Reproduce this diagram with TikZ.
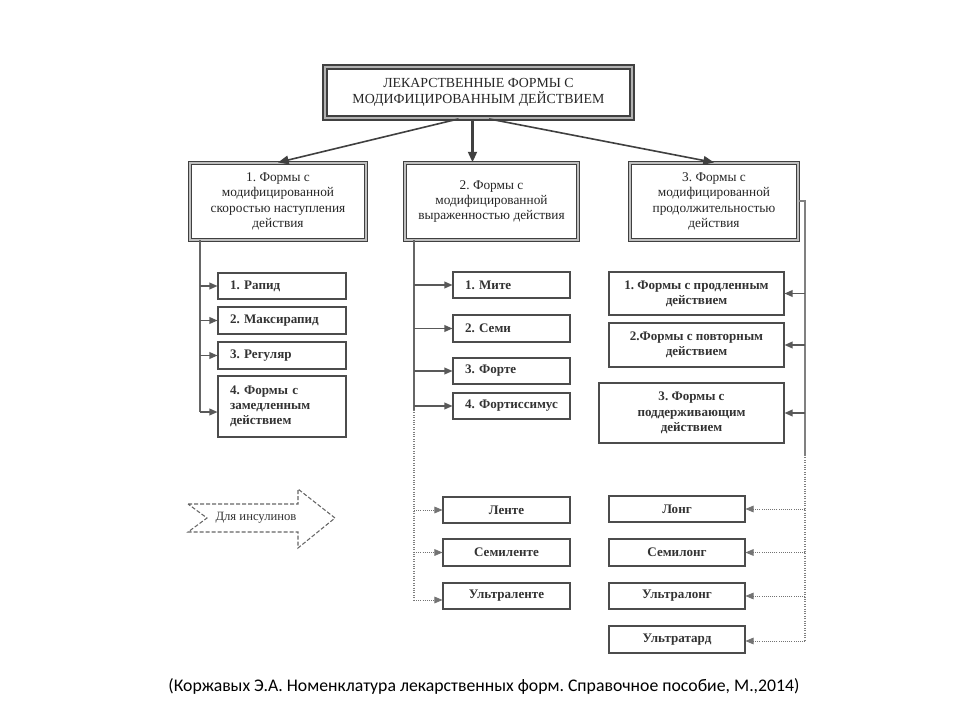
\documentclass[tikz,border=0pt]{standalone}
\usepackage{fontspec}
\setmainfont{Liberation Serif}
\newfontfamily\capfont{Carlito}
\usetikzlibrary{arrows.meta}
\frenchspacing
\begin{document}
\begin{tikzpicture}[x=0.75pt,y=-0.75pt,
  wh/.style 2 args={minimum width=#1*0.75pt, minimum height=#2*0.75pt},
  lvtop/.style={draw=black!75, line width=1.4pt, double=gray!60, double distance=1.3pt, fill=white, align=center, inner sep=0pt, text=black!85, font=\fontsize{10.4}{12.3}\selectfont},
  lvone/.style={draw=black!75, line width=0.8pt, double=gray!50, double distance=1pt, align=center, inner sep=0pt, text=black!85, font=\fontsize{10}{11.5}\selectfont},
  leaf/.style={draw=black!70, line width=0.8pt, inner sep=0pt, align=center, text=black!80, font=\fontsize{9.8}{11.5}\selectfont\bfseries},
  leafl/.style={leaf, align=left, text width=#1*0.75pt},
  conn/.style={draw=black!65, line width=1pt, -{Triangle[length=6pt,width=5pt]}},
  dconn/.style={draw=black!55, line width=0.6pt, densely dotted, -{Triangle[length=6pt,width=5pt]}},
  trunk/.style={draw=black!60, line width=1.1pt},
  dtrunk/.style={draw=black!50, line width=0.8pt, densely dotted},
  toparr/.style={draw=black!75, line width=1.2pt, -{Triangle[length=8pt,width=6.5pt]}}
]
\useasboundingbox (0,0) rectangle (960,720);
\fill[white] (0,0) rectangle (960,720);

% top
\node[lvtop, wh={307}{51}] (top) at (478.5,92.5) {ЛЕКАРСТВЕННЫЕ ФОРМЫ С\\МОДИФИЦИРОВАННЫМ ДЕЙСТВИЕМ};

% level 1
\node[lvone, wh={176}{77}] (b1) at (278,201.5) {1. Формы с\\модифицированной\\скоростью наступления\\действия};
\node[lvone, wh={173}{77}] (b2) at (491.5,201.5) {2. Формы с\\модифицированной\\выраженностью действия};
\node[lvone, wh={168}{77}] (b3) at (714,201.5) {3. Формы с\\модифицированной\\продолжительностью\\действия};

% top arrows
\coordinate (s1) at ([xshift=-15pt]top.south);
\coordinate (s2) at ([xshift=-4.5pt]top.south);
\coordinate (s3) at ([xshift=8pt]top.south);
\draw[toparr] (s1) -- (b1.north);
\draw[toparr, line width=2pt] (s2) -- (s2 |- b2.north);
\draw[toparr] (s3) -- (b3.north);

% left column
\node[leafl=104, wh={128}{26}] (l1) at (282,286) {1. Рапид};
\node[leafl=104, wh={128}{27}] (l2) at (282,320.5) {2. Максирапид};
\node[leafl=104, wh={128}{27}] (l3) at (282,355.5) {3. Регуляр};
\node[leafl=104, wh={128}{61}] (l4) at (282,406.5) {4. Формы с\\замедленным\\действием};

\coordinate (lt) at (200,240);
\coordinate (lb) at (200,412);
\draw[trunk] (lt) -- (lb);
\draw[conn] (lt |- l1.west) -- (l1.west);
\draw[conn] (lt |- l2.west) -- (l2.west);
\draw[conn] (lt |- l3.west) -- (l3.west);
\draw[conn] (lb) -- (lb -| l4.west);

% middle column
\node[leafl=93, wh={117}{26}] (m1) at (511.5,285) {1. Мите};
\node[leafl=93, wh={117}{27}] (m2) at (511.5,328.5) {2. Семи};
\node[leafl=93, wh={117}{26}] (m3) at (511.5,371) {3. Форте};
\node[leafl=93, wh={117}{26}] (m4) at (511.5,406) {4. Фортиссимус};
\node[leaf, wh={127}{26}] (m5) at (506.5,510) {Ленте};
\node[leaf, wh={127}{27}] (m6) at (506.5,552.5) {Семиленте};
\node[leaf, wh={127}{26}] (m7) at (506.5,596) {Ультраленте};

\coordinate (mt) at (414,240);
\coordinate (mm) at (414,410);
\coordinate (mb) at (414,600);
\draw[trunk] (mt) -- (mm);
\draw[dtrunk] (mm) -- (mb);
\draw[conn] (mt |- m1.west) -- (m1.west);
\draw[conn] (mt |- m2.west) -- (m2.west);
\draw[conn] (mt |- m3.west) -- (m3.west);
\draw[conn] (mt |- m4.west) -- (m4.west);
\draw[dconn] (mt |- m5.west) -- (m5.west);
\draw[dconn] (mt |- m6.west) -- (m6.west);
\draw[dconn] (mb) -- (mb -| m7.west);

% right column
\node[leaf, wh={175}{43}] (r1) at (696.5,293.5) {1. Формы с продленным\\действием};
\node[leaf, wh={175}{44}] (r2) at (696.5,345) {2.Формы с повторным\\действием};
\node[leaf, wh={185}{60}] (r3) at (691.5,413) {3. Формы с\\поддерживающим\\действием};
\node[leaf, wh={136}{26}] (r4) at (677,509) {Лонг};
\node[leaf, wh={136}{27}] (r5) at (677,552.5) {Семилонг};
\node[leaf, wh={136}{26}] (r6) at (677,596) {Ультралонг};
\node[leaf, wh={136}{27}] (r7) at (677,639.5) {Ультратард};

\coordinate (rt) at (805,201);
\coordinate (rm) at (805,455);
\coordinate (rb) at (805,641);
\draw[trunk, line width=0.9pt, draw=black!50] (b3.east |- rt) -- (rt) -- (rm);
\draw[dtrunk] (rm) -- (rb);
\draw[conn] (rt |- r1.east) -- (r1.east);
\draw[conn] (rt |- r2.east) -- (r2.east);
\draw[conn] (rt |- r3.east) -- (r3.east);
\draw[dconn] (rt |- r4.east) -- (r4.east);
\draw[dconn] (rt |- r5.east) -- (r5.east);
\draw[dconn] (rt |- r6.east) -- (r6.east);
\draw[dconn] (rb) -- (rb -| r7.east);

% insulin arrow
\draw[draw=black!60, line width=0.8pt, dash pattern=on 3pt off 1.5pt] (188,504) -- (298,504) -- (298,489) -- (335,518) -- (298,548) -- (298,532) -- (188,532) -- (207,518) -- cycle;
\node[text=black!80, font=\fontsize{9.5}{11}\selectfont] (ins) at (256,518) {Для инсулинов};

% caption
\node[font=\capfont\fontsize{13.3}{16}\selectfont, text=black] (cap) at (484,686) {(Коржавых Э.А. Номенклатура лекарственных форм. Справочное пособие, М.,2014)};
\end{tikzpicture}
\end{document}
